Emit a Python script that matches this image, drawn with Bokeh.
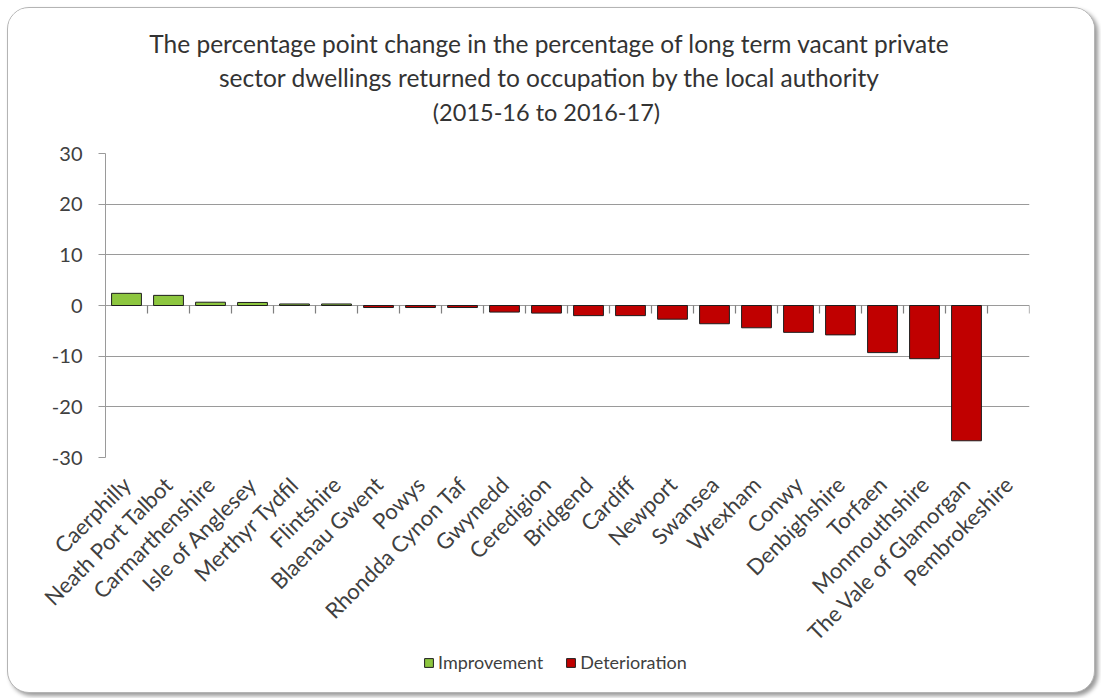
import math
from bokeh.plotting import figure
from bokeh.layouts import column
from bokeh.models import Range1d, FixedTicker, Label, Legend, LegendItem, ColumnDataSource
from bokeh.embed import file_html
from bokeh.resources import INLINE

categories = ["Caerphilly", "Neath Port Talbot", "Carmarthenshire", "Isle of Anglesey",
              "Merthyr Tydfil", "Flintshire", "Blaenau Gwent", "Powys", "Rhondda Cynon Taf",
              "Gwynedd", "Ceredigion", "Bridgend", "Cardiff", "Newport", "Swansea", "Wrexham",
              "Conwy", "Denbighshire", "Torfaen", "Monmouthshire", "The Vale of Glamorgan",
              "Pembrokeshire"]
values = [2.4, 2.0, 0.65, 0.6, 0.3, 0.3, -0.4, -0.4, -0.4, -1.3, -1.5, -2.0, -2.0, -2.7,
          -3.6, -4.4, -5.3, -5.8, -9.3, -10.5, -26.7, 0.0]
series_names = ["Improvement", "Deterioration"]
series_colors = ["#8DC63F", "#C00000"]
y_ticks = [-30, -20, -10, 0, 10, 20, 30]
title_lines = [
    "The percentage point change in the percentage of long term vacant private",
    "sector dwellings returned to occupation by the local authority",
    "(2015-16  to 2016-17)",
]

FONT = "Lato"
TXT = "#404040"
W = 1086
BL, BR = 97, 65          # left / right borders (frames of all strips are aligned)
n = len(categories)

# ---------- title strip ----------
TH = 129
pt = figure(width=W, height=TH, output_backend="svg", toolbar_location=None,
            x_range=Range1d(BL, W - BR), y_range=Range1d(0, TH),
            x_axis_location=None, y_axis_location=None,
            min_border_left=BL, min_border_right=BR, min_border_top=0, min_border_bottom=0)
pt.grid.visible = False
pt.outline_line_color = None
pt.border_fill_color = "white"
title_y = [94, 60, 26]
title_sizes = ["24.5px", "24.5px", "23.5px"]
for line, yy, fs in zip(title_lines, title_y, title_sizes):
    pt.add_layout(Label(x=541, y=yy, text=line, text_align="center", text_baseline="middle",
                        text_font=FONT, text_font_size=fs, text_color="#333333"))

# ---------- main chart ----------
MH = 521
p = figure(width=W, height=MH, output_backend="svg", toolbar_location=None,
           x_range=Range1d(0, n), y_range=Range1d(-30, 30),
           min_border_left=BL, min_border_right=BR, min_border_top=16, min_border_bottom=201)
p.outline_line_color = None
p.background_fill_color = "white"
p.border_fill_color = "white"

xs = [i + 0.5 for i in range(n)]
pos = ColumnDataSource(dict(x=[x for x, v in zip(xs, values) if v > 0],
                            top=[v for v in values if v > 0]))
neg = ColumnDataSource(dict(x=[x for x, v in zip(xs, values) if v < 0],
                            top=[v for v in values if v < 0]))
p.vbar(x="x", top="top", bottom=0, width=0.71, source=pos,
       fill_color=series_colors[0], line_color="#1e1e1e", line_width=1)
p.vbar(x="x", top="top", bottom=0, width=0.71, source=neg,
       fill_color=series_colors[1], line_color="#1e1e1e", line_width=1)

# category tick marks below the zero line
bx = list(range(1, n + 1))
p.segment(x0=bx, x1=bx, y0=[0] * n, y1=[-1.6] * n, line_color="#7f7f7f", line_width=1.2)

p.xgrid.visible = False
p.ygrid.ticker = FixedTicker(ticks=y_ticks)
p.ygrid.grid_line_color = "#9a9a9a"
p.ygrid.grid_line_width = 1

ya = p.yaxis[0]
ya.ticker = FixedTicker(ticks=y_ticks)
ya.major_label_overrides = {t: str(t) for t in y_ticks}
ya.axis_line_color = "#9a9a9a"
ya.major_tick_line_color = "#9a9a9a"
ya.major_tick_out = 7
ya.major_tick_in = 0
ya.minor_tick_line_color = None
ya.major_label_standoff = 16
ya.major_label_text_font = FONT
ya.major_label_text_font_size = "20px"
ya.major_label_text_color = TXT

xa = p.xaxis[0]
xa.ticker = FixedTicker(ticks=xs)
xa.major_label_overrides = {x: c for x, c in zip(xs, categories)}
xa.major_label_orientation = math.pi / 4
xa.axis_line_color = None
xa.major_tick_line_color = None
xa.minor_tick_line_color = None
xa.major_label_standoff = 17
xa.major_label_text_font = FONT
xa.major_label_text_font_size = "22px"
xa.major_label_text_color = TXT

# ---------- legend strip (overlaps the bottom of the chart slightly) ----------
OV = 14
LH = 684 - TH - MH + OV
pl = figure(width=W, height=LH, output_backend="svg", toolbar_location=None,
            x_range=Range1d(0, 1), y_range=Range1d(100, 101),
            x_axis_location=None, y_axis_location=None,
            min_border_left=BL, min_border_right=BR, min_border_top=0, min_border_bottom=0)
pl.grid.visible = False
pl.outline_line_color = None
pl.border_fill_alpha = 0
pl.background_fill_alpha = 0
pl.styles = {"margin-top": f"-{OV}px"}
g1 = pl.vbar(x="x", top="top", bottom=0, width=0.5, source=pos,
             fill_color=series_colors[0], line_color="#1e1e1e")
g2 = pl.vbar(x="x", top="top", bottom=0, width=0.5, source=neg,
             fill_color=series_colors[1], line_color="#1e1e1e")
legend = Legend(items=[LegendItem(label=series_names[0], renderers=[g1]),
                       LegendItem(label=series_names[1], renderers=[g2])],
                orientation="horizontal", location=(318, 19))
legend.border_line_color = None
legend.background_fill_alpha = 0
legend.padding = 0
legend.margin = 0
legend.spacing = 22
legend.glyph_width = 11
legend.glyph_height = 11
legend.label_standoff = 4
legend.label_text_font = FONT
legend.label_text_font_size = "18px"
legend.label_text_color = TXT
pl.add_layout(legend, "center")

layout = column(pt, p, pl, spacing=0)
layout.styles = {"border": "1px solid #b4b4b4", "border-radius": "22px", "overflow": "hidden",
                 "box-shadow": "3px 3px 4px #9a9a9a", "background": "white",
                 "margin-left": "7px", "margin-top": "7px"}

open("out.html", "w").write(file_html(layout, INLINE))
